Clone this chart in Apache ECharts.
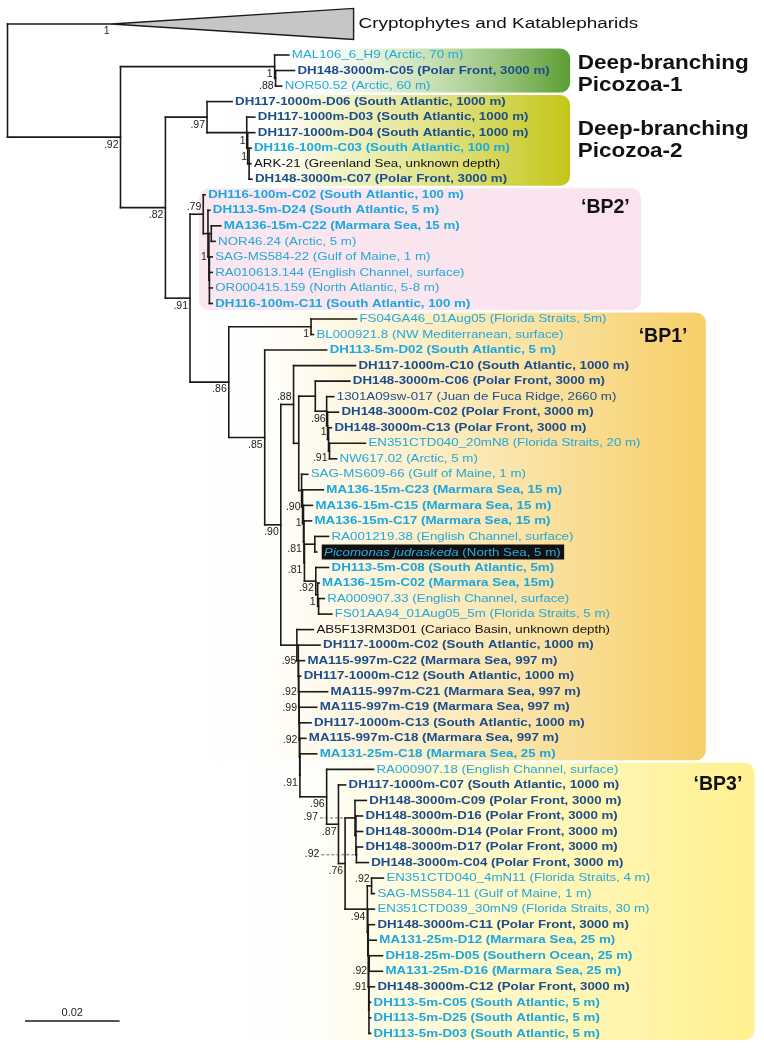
<!DOCTYPE html>
<html><head><meta charset="utf-8">
<script src="https://cdn.jsdelivr.net/npm/echarts@6/dist/echarts.min.js"></script>
<style>html,body{margin:0;padding:0;background:#fff}#c{width:764px;height:1048px}</style>
</head><body><div id="c"></div>
<script>
// ================= DATA =================
// collapsed outgroup: name, apex depth, tip depth (subst./site), support
const collapsedClade = ["Cryptophytes and Katablepharids", 0.0220, 0.0732, "1"];

// internal nodes: id, parent, depth from root (subst./site), support
const nodes = [
  ["R", null, 0, ""],
  ["A", "R", 0.0239, ".92"],
  ["P1", "A", 0.0565, "1"],
  ["P1b", "P1", 0.0567, ".88"],
  ["B", "A", 0.0334, ".82"],
  ["P2", "B", 0.0422, ".97"],
  ["P2b", "P2", 0.0506, ""],
  ["P2c", "P2b", 0.0508, "1"],
  ["P2d", "P2c", 0.0511, "1"],
  ["C", "B", 0.0386, ".91"],
  ["BP2", "C", 0.0414, ".79"],
  ["BP2b", "BP2", 0.0424, ""],
  ["BP2c", "BP2b", 0.0426, "1"],
  ["BP2x", "BP2c", 0.0431, ""],
  ["BP2d", "BP2c", 0.0427, ""],
  ["D", "C", 0.0468, ".86"],
  ["FSBL", "D", 0.0642, "1"],
  ["E", "D", 0.0544, ".85"],
  ["F", "E", 0.0578, ".90"],
  ["G", "F", 0.0605, ".88"],
  ["H", "G", 0.0616, ""],
  ["H1", "H", 0.0651, ""],
  ["I", "H1", 0.0675, ""],
  ["I2", "I", 0.0677, ".96"],
  ["I3", "I2", 0.0679, "1"],
  ["I4", "I3", 0.0681, ".91"],
  ["K", "H", 0.0622, ""],
  ["K2", "K", 0.0624, ".90"],
  ["K3", "K2", 0.0626, "1"],
  ["K4", "K3", 0.0627, ".81"],
  ["K5", "K4", 0.0628, ".81"],
  ["M1", "K5", 0.0650, ""],
  ["M2", "K5", 0.0652, ".92"],
  ["M3", "M2", 0.0656, "1"],
  ["M4", "M3", 0.0658, ""],
  ["J", "F", 0.0612, ""],
  ["N1", "J", 0.0615, ".95"],
  ["N2", "N1", 0.06155, ""],
  ["N3", "N2", 0.0616, ".92"],
  ["N4", "N3", 0.06165, ".99"],
  ["N5", "N4", 0.0617, ""],
  ["N6", "N5", 0.06175, ".92"],
  ["N7", "N6", 0.0618, ""],
  ["N8", "N7", 0.06185, ".91"],
  ["L", "N8", 0.0675, ".96"],
  ["M", "L", 0.0700, ".87"],
  ["N", "M", 0.0714, ".76"],
  ["O", "N", 0.0735, ".97"],
  ["O1", "O", 0.0737, ""],
  ["O2", "O1", 0.0738, ".92"],
  ["P", "N", 0.0761, ".94"],
  ["Q", "P", 0.0770, ".92"],
  ["S1", "P", 0.0762, ""],
  ["S2", "S1", 0.0763, ""],
  ["S3", "S2", 0.0764, ".91"],
  ["S4", "S3", 0.0765, ".92"],
  ["S5", "S3", 0.07645, ""]
];

// leaves (top to bottom): name, locality, parent, tip depth, sample type
const leaves = [
  ["MAL106_6_H9", "(Arctic, 70 m)", "P1", 0.0595, "env"],
  ["DH148-3000m-C05", "(Polar Front, 3000 m)", "P1b", 0.0607, "deep"],
  ["NOR50.52", "(Arctic, 60 m)", "P1b", 0.0580, "env"],
  ["DH117-1000m-D06", "(South Atlantic, 1000 m)", "P2", 0.0475, "deep"],
  ["DH117-1000m-D03", "(South Atlantic, 1000 m)", "P2b", 0.0523, "deep"],
  ["DH117-1000m-D04", "(South Atlantic, 1000 m)", "P2c", 0.0523, "deep"],
  ["DH116-100m-C03", "(South Atlantic, 100 m)", "P2d", 0.0515, "shallow"],
  ["ARK-21", "(Greenland Sea, unknown depth)", "P2d", 0.0515, "unknown"],
  ["DH148-3000m-C07", "(Polar Front, 3000 m)", "P2d", 0.0517, "deep"],
  ["DH116-100m-C02", "(South Atlantic, 100 m)", "BP2", 0.0418, "shallow"],
  ["DH113-5m-D24", "(South Atlantic, 5 m)", "BP2b", 0.0428, "shallow"],
  ["MA136-15m-C22", "(Marmara Sea, 15 m)", "BP2x", 0.0451, "shallow"],
  ["NOR46.24", "(Arctic, 5 m)", "BP2x", 0.0439, "env"],
  ["SAG-MS584-22", "(Gulf of Maine, 1 m)", "BP2d", 0.0433, "env"],
  ["RA010613.144", "(English Channel, surface)", "BP2d", 0.0433, "env"],
  ["OR000415.159", "(North Atlantic, 5-8 m)", "BP2d", 0.0433, "env"],
  ["DH116-100m-C11", "(South Atlantic, 100 m)", "BP2d", 0.0433, "shallow"],
  ["FS04GA46_01Aug05", "(Florida Straits, 5m)", "FSBL", 0.0738, "env"],
  ["BL000921.8", "(NW Mediterranean, surface)", "FSBL", 0.0647, "env"],
  ["DH113-5m-D02", "(South Atlantic, 5 m)", "E", 0.0675, "shallow"],
  ["DH117-1000m-C10", "(South Atlantic, 1000 m)", "G", 0.0736, "deep"],
  ["DH148-3000m-C06", "(Polar Front, 3000 m)", "H1", 0.0724, "deep"],
  ["1301A09sw-017", "(Juan de Fuca Ridge, 2660 m)", "I", 0.0690, "envDeep"],
  ["DH148-3000m-C02", "(Polar Front, 3000 m)", "I2", 0.0700, "deep"],
  ["DH148-3000m-C13", "(Polar Front, 3000 m)", "I3", 0.0685, "deep"],
  ["EN351CTD040_20mN8", "(Florida Straits, 20 m)", "I4", 0.0757, "env"],
  ["NW617.02", "(Arctic, 5 m)", "I4", 0.0696, "env"],
  ["SAG-MS609-66", "(Gulf of Maine, 1 m)", "K", 0.0635, "env"],
  ["MA136-15m-C23", "(Marmara Sea, 15 m)", "K2", 0.0668, "shallow"],
  ["MA136-15m-C15", "(Marmara Sea, 15 m)", "K3", 0.0645, "shallow"],
  ["MA136-15m-C17", "(Marmara Sea, 15 m)", "K4", 0.0643, "shallow"],
  ["RA001219.38", "(English Channel, surface)", "M1", 0.0679, "env"],
  ["Picomonas judraskeda", "(North Sea, 5 m)", "M1", 0.0654, "culture"],
  ["DH113-5m-C08", "(South Atlantic, 5m)", "M2", 0.0679, "shallow"],
  ["MA136-15m-C02", "(Marmara Sea, 15m)", "M3", 0.0659, "shallow"],
  ["RA000907.33", "(English Channel, surface)", "M4", 0.0670, "env"],
  ["FS01AA94_01Aug05_5m", "(Florida Straits, 5 m)", "M4", 0.0686, "env"],
  ["AB5F13RM3D01", "(Cariaco Basin, unknown depth)", "J", 0.0647, "unknown"],
  ["DH117-1000m-C02", "(South Atlantic, 1000 m)", "N1", 0.0661, "deep"],
  ["MA115-997m-C22", "(Marmara Sea, 997 m)", "N2", 0.0628, "deep"],
  ["DH117-1000m-C12", "(South Atlantic, 1000 m)", "N3", 0.0620, "deep"],
  ["MA115-997m-C21", "(Marmara Sea, 997 m)", "N4", 0.0677, "deep"],
  ["MA115-997m-C19", "(Marmara Sea, 997 m)", "N5", 0.0654, "deep"],
  ["DH117-1000m-C13", "(South Atlantic, 1000 m)", "N6", 0.0642, "deep"],
  ["MA115-997m-C18", "(Marmara Sea, 997 m)", "N7", 0.0631, "deep"],
  ["MA131-25m-C18", "(Marmara Sea, 25 m)", "N8", 0.0654, "shallow"],
  ["RA000907.18", "(English Channel, surface)", "L", 0.0774, "env"],
  ["DH117-1000m-C07", "(South Atlantic, 1000 m)", "M", 0.0715, "deep"],
  ["DH148-3000m-C09", "(Polar Front, 3000 m)", "O", 0.0759, "deep"],
  ["DH148-3000m-D16", "(Polar Front, 3000 m)", "O1", 0.0751, "deep"],
  ["DH148-3000m-D14", "(Polar Front, 3000 m)", "O1", 0.0751, "deep"],
  ["DH148-3000m-D17", "(Polar Front, 3000 m)", "O2", 0.0751, "deep"],
  ["DH148-3000m-C04", "(Polar Front, 3000 m)", "O2", 0.0763, "deep"],
  ["EN351CTD040_4mN11", "(Florida Straits, 4 m)", "Q", 0.0795, "env"],
  ["SAG-MS584-11", "(Gulf of Maine, 1 m)", "Q", 0.0776, "env"],
  ["EN351CTD039_30mN9", "(Florida Straits, 30 m)", "S1", 0.0776, "env"],
  ["DH148-3000m-C11", "(Polar Front, 3000 m)", "S2", 0.0776, "deep"],
  ["MA131-25m-D12", "(Marmara Sea, 25 m)", "S2", 0.0780, "shallow"],
  ["DH18-25m-D05", "(Southern Ocean, 25 m)", "S4", 0.0793, "shallow"],
  ["MA131-25m-D16", "(Marmara Sea, 25 m)", "S4", 0.0793, "shallow"],
  ["DH148-3000m-C12", "(Polar Front, 3000 m)", "S5", 0.0776, "deep"],
  ["DH113-5m-C05", "(South Atlantic, 5 m)", "S5", 0.0768, "shallow"],
  ["DH113-5m-D25", "(South Atlantic, 5 m)", "S5", 0.0768, "shallow"],
  ["DH113-5m-D03", "(South Atlantic, 5 m)", "S5", 0.0768, "shallow"]
];

// clades: label, first leaf, last leaf
const clades = [
  ["Deep-branching\nPicozoa-1", 0, 2],
  ["Deep-branching\nPicozoa-2", 3, 8],
  ["\u2018BP2\u2019", 9, 16],
  ["\u2018BP1\u2019", 17, 45],
  ["\u2018BP3\u2019", 46, 63]
];

const scaleBar = [0.02, "0.02"];

// ================= STYLE / LAYOUT =================
const ROW0 = 55, ROW = 15.53, Y_MIN = -3.5, Y_MAX = 63.5;
const FONT = '"Liberation Sans", Arial, Helvetica, sans-serif';
const LEAF_FS = 11.5, TEXT_SX = 1.157;
const typeStyle = {
  deep:    { weight: 'bold',   color: '#1d4c8c' },
  shallow: { weight: 'bold',   color: '#1ba7e0' },
  env:     { weight: 'normal', color: '#25a8da' },
  envDeep: { weight: 'normal', color: '#1d4c8c' },
  unknown: { weight: 'normal', color: '#111111' },
  culture: { weight: 'normal', color: '#2aaae2' }
};
// support label placement: b = below branch, a = above, l = left of node, d = dashed leader
const supportPlace = { BP2: 'a', G: 'a', P2c: 'a', P2d: 'a', BP2c: 'l', K2: 'l', K3: 'l',
  N1: 'l', N3: 'l', N4: 'l', N6: 'l', I2: 'a', I3: 'a', Q: 'a', S3: 'l', O: 'd', O2: 'd' };
// clade boxes: x extent (value units), colours; label anchor
const cladeStyle = [
  { x0: 0.0585, x1: 0.1190, stops: [[0, 'rgba(255,255,255,0)'], [0.35, 'rgba(200,225,175,0.55)'], [1, '#5a9e32']], lx: 0.1206, ly: 1.23, size: 21, sx: 1.07 },
  { x0: 0.0470, x1: 0.1190, stops: [[0, 'rgba(255,255,255,0)'], [0.3, 'rgba(240,242,190,0.8)'], [1, '#c3c617']], lx: 0.1206, ly: 5.5, size: 21, sx: 1.07 },
  { x0: 0.0405, x1: 0.1340, stops: [[0, '#fbe7f0'], [1, '#fae3ee']], lx: 0.1213, ly: 9.85, size: 19.5, sx: 1 },
  { x0: 0.0430, x1: 0.1477, stops: [[0, 'rgba(255,255,255,0)'], [0.25, '#fef8e6'], [1, '#f7cf68']], lx: 0.1335, ly: 18.15, size: 19.5, sx: 1 },
  { x0: 0.0510, x1: 0.1580, stops: [[0, 'rgba(255,255,255,0)'], [0.3, '#fffbdc'], [1, '#fff190']], lx: 0.1451, ly: 47.0, size: 19.5, sx: 1 }
];
const BOX_PAD = 0.42;

// ================= LAYOUT COMPUTATION =================
const depth = {}, kids = {};
nodes.forEach(n => { depth[n[0]] = n[2]; kids[n[0]] = []; });
nodes.forEach(n => { if (n[1]) kids[n[1]].push({ node: n[0] }); });
leaves.forEach((l, i) => kids[l[2]].push({ leaf: i }));
kids.R.unshift({ collapsed: true });
const COLLAPSED_Y = -2;
const nodeY = {}, span = {};
function yOf(k) {
  if (k.leaf !== undefined) return k.leaf;
  if (k.collapsed) return COLLAPSED_Y;
  return layout(k.node);
}
function layout(id) {
  const ys = kids[id].map(yOf);
  const lo = Math.min(...ys), hi = Math.max(...ys);
  span[id] = [lo, hi];
  nodeY[id] = (lo + hi) / 2;
  return nodeY[id];
}
layout('R');

// segments (value coords)
const segs = [];
nodes.forEach(n => {
  if (n[1]) segs.push([depth[n[1]], nodeY[n[0]], n[2], nodeY[n[0]]]);
  segs.push([n[2], span[n[0]][0], n[2], span[n[0]][1]]);
});
leaves.forEach((l, i) => segs.push([depth[l[2]], i, l[3], i]));
segs.push([0, COLLAPSED_Y, collapsedClade[1], COLLAPSED_Y]);

// text items
const texts = [];
leaves.forEach((l, i) => {
  const st = typeStyle[l[4]];
  if (l[4] === 'culture') {
    texts.push({ x: l[3], y: i, dx: 5, dy: 0, sx: TEXT_SX, align: 'left',
      text: '{i|' + l[0] + '}{n| ' + l[1] + '}', fill: st.color,
      font: 'normal ' + LEAF_FS + 'px ' + FONT, bg: '#111111', rich: true });
  } else {
    texts.push({ x: l[3], y: i, dx: 3, dy: 0, sx: TEXT_SX, align: 'left',
      text: l[0] + ' ' + l[1], fill: st.color, font: st.weight + ' ' + LEAF_FS + 'px ' + FONT });
  }
});
const SUP_FONT = 'normal 10.5px ' + FONT;
const leaders = [];
nodes.forEach(n => {
  if (!n[3]) return;
  const p = supportPlace[n[0]] || 'b';
  let dx = -2, dy = 7.5;
  if (p === 'a') dy = -7;
  if (p === 'l') dy = 0;
  if (p === 'd') { dx = -37; dy = -1; leaders.push([n[2], nodeY[n[0]]]); }
  texts.push({ x: n[2], y: nodeY[n[0]], dx, dy, sx: 1, align: 'right', text: n[3], fill: '#222', font: SUP_FONT });
});
// collapsed clade support + name
texts.push({ x: collapsedClade[1], y: COLLAPSED_Y, dx: -2, dy: 7.5, sx: 1, align: 'right', text: collapsedClade[3], fill: '#222', font: SUP_FONT });
texts.push({ x: collapsedClade[2], y: COLLAPSED_Y, dx: 5, dy: 0, sx: 1.22, align: 'left', text: collapsedClade[0], fill: '#111', font: 'normal 15.5px ' + FONT });
// clade labels
clades.forEach((c, k) => {
  const cs = cladeStyle[k];
  texts.push({ x: cs.lx, y: cs.ly, dx: 0, dy: 0, sx: cs.sx, align: 'left', text: c[0], fill: '#111', font: 'bold ' + cs.size + 'px ' + FONT, lh: 22 });
});
// scale bar
const SB_X = 0.0037, SB_Y = 62.2;
texts.push({ x: SB_X + scaleBar[0] / 2, y: SB_Y, dx: 0, dy: -8, sx: 1.05, align: 'center', text: scaleBar[1], fill: '#222', font: 'normal 10.5px ' + FONT });

// ================= CHART =================
const chart = echarts.init(document.getElementById('c'), null, { renderer: 'canvas', width: 764, height: 1048 });

const boxSeries = {
  type: 'custom', silent: true, z: 1,
  data: clades.map((c, k) => [cladeStyle[k].x0, c[1]]),
  renderItem(params, api) {
    const k = params.dataIndex, c = clades[k], cs = cladeStyle[k];
    const p0 = api.coord([cs.x0, c[1] - BOX_PAD]);
    const p1 = api.coord([cs.x1, c[2] + BOX_PAD]);
    return {
      type: 'rect',
      shape: { x: p0[0], y: p0[1], width: p1[0] - p0[0], height: p1[1] - p0[1], r: 10 },
      style: { fill: { type: 'linear', x: 0, y: 0, x2: 1, y2: 0,
        colorStops: cs.stops.map(s => ({ offset: s[0], color: s[1] })) } }
    };
  }
};

const treeSeries = {
  type: 'custom', silent: true, z: 2,
  data: segs.map(s => [s[0], s[1]]),
  renderItem(params, api) {
    const s = segs[params.dataIndex];
    const a = api.coord([s[0], s[1]]), b = api.coord([s[2], s[3]]);
    return { type: 'line', shape: { x1: a[0], y1: a[1], x2: b[0], y2: b[1] },
      style: { stroke: '#1a1a1a', lineWidth: 1.6, lineCap: 'square' } };
  }
};

const extraSeries = {
  type: 'custom', silent: true, z: 3,
  data: [[0, 0]],
  renderItem(params, api) {
    const children = [];
    const ap = api.coord([collapsedClade[1], COLLAPSED_Y]);
    const t1 = api.coord([collapsedClade[2], COLLAPSED_Y - 1]);
    const t2 = api.coord([collapsedClade[2], COLLAPSED_Y + 1]);
    children.push({ type: 'polygon', shape: { points: [ap, t1, t2] },
      style: { fill: '#c6c6c6', stroke: '#1a1a1a', lineWidth: 1.4 } });
    leaders.forEach(l => {
      const p = api.coord(l);
      children.push({ type: 'line', shape: { x1: p[0] - 35, y1: p[1], x2: p[0], y2: p[1] },
        style: { stroke: '#444', lineWidth: 0.8, lineDash: [3, 2] } });
    });
    const s0 = api.coord([SB_X, SB_Y]), s1 = api.coord([SB_X + scaleBar[0], SB_Y]);
    children.push({ type: 'line', shape: { x1: s0[0], y1: s0[1], x2: s1[0], y2: s1[1] },
      style: { stroke: '#1a1a1a', lineWidth: 1.4 } });
    return { type: 'group', children };
  }
};

const textSeries = {
  type: 'custom', silent: true, z: 4,
  data: texts.map(t => [t.x, t.y]),
  renderItem(params, api) {
    const t = texts[params.dataIndex];
    const p = api.coord([t.x, t.y]);
    const style = { text: t.text, fill: t.fill, font: t.font, align: t.align, verticalAlign: 'middle' };
    if (t.lh) style.lineHeight = t.lh;
    if (t.rich) {
      style.rich = {
        i: { fontStyle: 'italic', fontSize: LEAF_FS, fontFamily: FONT, fill: t.fill },
        n: { fontSize: LEAF_FS, fontFamily: FONT, fill: t.fill }
      };
      style.backgroundColor = t.bg;
      style.padding = [2, 3, 1, 2];
    }
    return { type: 'text', x: p[0] + t.dx, y: p[1] + t.dy, scaleX: t.sx, style };
  }
};

chart.setOption({
  animation: false,
  grid: { left: 7.5, top: ROW0 + Y_MIN * ROW, width: 760, height: (Y_MAX - Y_MIN) * ROW },
  xAxis: { type: 'value', min: 0, max: 0.16, show: false },
  yAxis: { type: 'value', min: Y_MIN, max: Y_MAX, inverse: true, show: false },
  series: [boxSeries, treeSeries, extraSeries, textSeries]
});
</script>
</body></html>
